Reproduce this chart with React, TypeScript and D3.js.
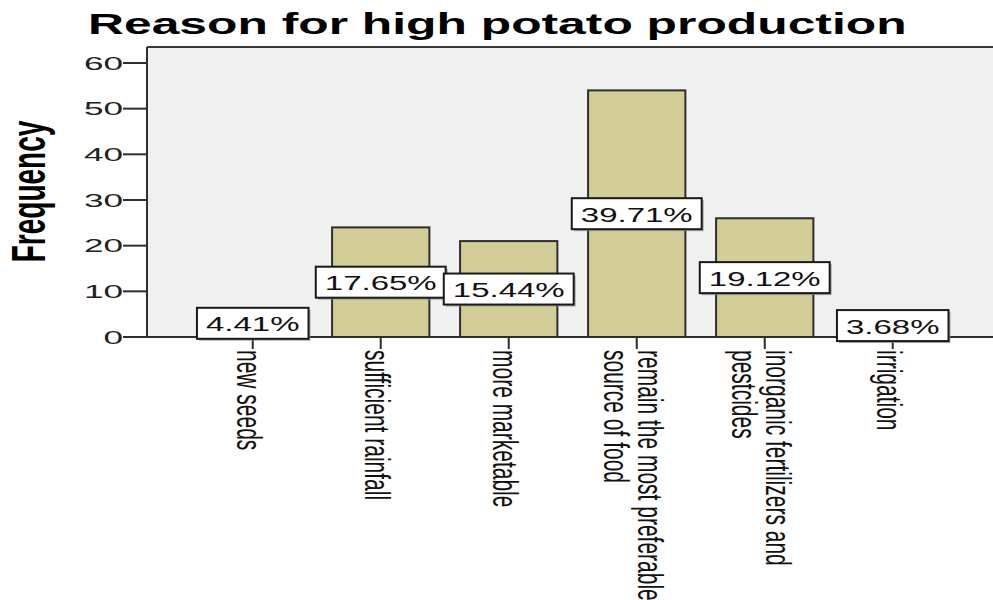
import React from "react";
import * as d3 from "d3";

const categories: string[][] = [
  ["new seeds"],
  ["sufficient rainfall"],
  ["more marketable"],
  ["remain the most preferable", "source of food"],
  ["inorganic fertilizers and", "pestcides"],
  ["irrigation"],
];
const frequencies: number[] = [6, 24, 21, 54, 26, 5];
const percentLabels: string[] = ["4.41%", "17.65%", "15.44%", "39.71%", "19.12%", "3.68%"];
const yTicks: number[] = [0, 10, 20, 30, 40, 50, 60];
const title = "Reason for high potato production";
const yTitle = "Frequency";

const W = 993;
const H = 600;
const SX = 1.65; // horizontal stretch of all text
const FONT = "'Liberation Sans', Arial, sans-serif";

const plotLeft = 147;
const plotRight = 993;
const plotTop = 47;
const plotBottom = 337;

function labelWidth(s: string, fs: number): number {
  let w = 0;
  for (const ch of s) {
    if (ch === ".") w += 0.278;
    else if (ch === "%") w += 0.889;
    else w += 0.556;
  }
  return w * fs * SX;
}

export default function App() {
  const keys = categories.map((c) => c.join(" "));
  const x = d3
    .scaleBand<string>()
    .domain(keys)
    .range([147, 990])
    .paddingInner(0.24)
    .paddingOuter(0.413)
    .align(0.54);
  const y = d3.scaleLinear().domain([0, 63.5]).range([plotBottom, plotTop]);

  const bw = x.bandwidth();
  const stroke = "#2e2e2e";
  const pctFs = 20;
  const catFs = 21;
  const lineStep = 34;

  return (
    <svg
      width={W}
      height={H}
      style={{ position: "absolute", left: 0, top: 0, display: "block", background: "#fff" }}
      fontFamily={FONT}
    >
      <rect x={0} y={0} width={W} height={H} fill="#ffffff" />
      {/* title */}
      <text
        transform={`translate(88,34) scale(1.66,1)`}
        fontSize={30}
        fontWeight="bold"
        fill="#000"
      >
        {title}
      </text>

      {/* plot background */}
      <rect
        x={plotLeft}
        y={plotTop}
        width={plotRight - plotLeft}
        height={plotBottom - plotTop}
        fill="#f0f0f0"
      />
      <line x1={plotLeft} x2={plotRight} y1={plotTop} y2={plotTop} stroke="#3a3a3a" strokeWidth={2} />

      {/* y ticks */}
      {yTicks.map((t) => (
        <g key={t}>
          <line x1={123} x2={plotLeft} y1={y(t)} y2={y(t)} stroke={stroke} strokeWidth={2} />
          <text
            transform={`translate(123,${y(t)}) scale(1.85,1)`}
            textAnchor="end"
            dominantBaseline="central"
            fontSize={19}
            fill="#222"
          >
            {t}
          </text>
        </g>
      ))}

      {/* y title */}
      <text
        transform={`translate(45,191.5) scale(1.75,1) rotate(-90)`}
        textAnchor="middle"
        fontSize={28}
        fontWeight="bold"
        fill="#000"
      >
        {yTitle}
      </text>

      {/* bars */}
      {keys.map((k, i) => (
        <rect
          key={k}
          x={x(k)!}
          y={y(frequencies[i])}
          width={bw}
          height={plotBottom - y(frequencies[i])}
          fill="#d3ce97"
          stroke={stroke}
          strokeWidth={2}
        />
      ))}

      {/* axes lines */}
      <line x1={plotLeft} x2={plotLeft} y1={plotTop} y2={plotBottom} stroke={stroke} strokeWidth={2} />
      <line x1={plotLeft} x2={plotRight} y1={plotBottom} y2={plotBottom} stroke={stroke} strokeWidth={2} />

      {/* x ticks and labels */}
      {keys.map((k, i) => {
        const cx = x(k)! + bw / 2;
        const lines = categories[i];
        const n = lines.length;
        return (
          <g key={k}>
            <line x1={cx} x2={cx} y1={plotBottom} y2={349} stroke={stroke} strokeWidth={2} />
            <text
              transform={`translate(${cx},350) scale(${SX},1) rotate(90)`}
              fontSize={catFs}
              fill="#111"
            >
              {lines.map((ln, j) => (
                <tspan key={j} x={0} y={(16 + (j - (n - 1) / 2) * lineStep) / SX}>
                  {ln}
                </tspan>
              ))}
            </text>
          </g>
        );
      })}

      {/* percent labels */}
      {keys.map((k, i) => {
        const cx = x(k)! + bw / 2;
        const cy = (y(frequencies[i]) + plotBottom) / 2;
        const bwid = labelWidth(percentLabels[i], pctFs) + 18;
        const bh = 31;
        return (
          <g key={"p" + k}>
            <rect
              x={cx - bwid / 2 + 2}
              y={cy - bh / 2 + 2}
              width={bwid}
              height={bh}
              fill="#8a8a8a"
              opacity={0.7}
            />
            <rect
              x={cx - bwid / 2}
              y={cy - bh / 2}
              width={bwid}
              height={bh}
              fill="#ffffff"
              stroke="#1a1a1a"
              strokeWidth={2}
            />
            <text
              transform={`translate(${cx},${cy + 1}) scale(${SX},1)`}
              textAnchor="middle"
              dominantBaseline="central"
              fontSize={pctFs}
              fill="#111"
            >
              {percentLabels[i]}
            </text>
          </g>
        );
      })}
    </svg>
  );
}
